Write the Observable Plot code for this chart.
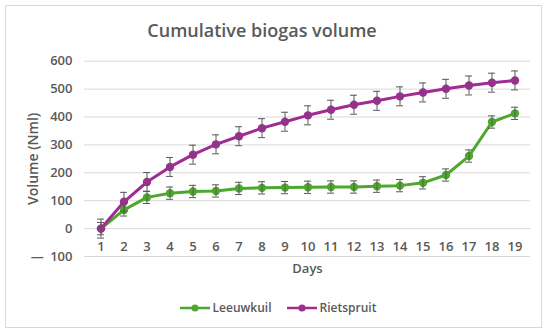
<!DOCTYPE html>
<html>
<head>
<meta charset="utf-8">
<script src="https://cdn.jsdelivr.net/npm/d3@7"></script>
<script src="https://cdn.jsdelivr.net/npm/@observablehq/plot@0.6"></script>
<style>
  html, body { margin: 0; padding: 0; background: #fff; }
  body { width: 550px; height: 335px; position: relative; overflow: hidden; font-family: "Open Sans", sans-serif; color: #595959; }
  #frame { position: absolute; left: 5px; top: 5px; width: 537px; height: 323px; border: 1px solid #d9d9d9; box-sizing: border-box; }
  #chart { position: absolute; left: 0; top: 0; width: 550px; }
  .title { height: 42px; padding-top: 18px; box-sizing: border-box; margin-bottom: 6px; text-align: center; font-size: 18px; line-height: 24px; font-weight: 600; color: #595959; }
  .title span { position: relative; left: -13px; }
  .legend { margin-top: 12px; height: 16px; display: flex; justify-content: center; gap: 15px; font-size: 12px; line-height: 16px; font-weight: 600; color: #595959; padding-left: 6px; }
  .legend .item { display: flex; align-items: center; gap: 3px; }
  svg { display: block; }
</style>
</head>
<body>
<div id="frame"></div>
<div id="chart"></div>
<script>
const days = [1, 2, 3, 4, 5, 6, 7, 8, 9, 10, 11, 12, 13, 14, 15, 16, 17, 18, 19];
const seriesNames = ["Leeuwkuil", "Rietspruit"];
const seriesColors = ["#4EA72E", "#A02B93"];
const leeuwkuil = [0, 67, 112, 127, 133, 135, 144, 146, 147, 148, 149, 149, 152, 154, 164, 192, 260, 382, 413];
const rietspruit = [0, 96, 167, 221, 265, 302, 331, 360, 383, 406, 426, 444, 458, 474, 488, 501, 513, 523, 531];
const errLeeuwkuil = [22, 22, 22, 22, 22, 22, 22, 22, 22, 22, 22, 22, 22, 22, 22, 22, 22, 22, 22];
const errRietspruit = [34, 34, 34, 34, 34, 34, 34, 34, 34, 34, 34, 34, 34, 34, 34, 34, 34, 34, 34];
const yTicks = [-100, 0, 100, 200, 300, 400, 500, 600];
const titleText = "Cumulative biogas volume";
const xLabel = "Days";
const yLabel = "Volume (Nml)";

const data = [];
days.forEach((d, i) => {
  data.push({ day: d, series: seriesNames[0], v: leeuwkuil[i], e: errLeeuwkuil[i] });
});
days.forEach((d, i) => {
  data.push({ day: d, series: seriesNames[1], v: rietspruit[i], e: errRietspruit[i] });
});

const chart = document.getElementById("chart");
const title = document.createElement("div");
title.className = "title";
title.innerHTML = "<span>" + titleText + "</span>";
chart.appendChild(title);

const plot = Plot.plot({
  width: 550,
  height: 240,
  marginLeft: 84,
  marginRight: 20,
  marginTop: 12.7,
  marginBottom: 32,
  style: { fontFamily: "Open Sans", fontSize: "13px", color: "#595959", background: "transparent", overflow: "visible" },
  x: { type: "band", domain: days, padding: 0 },
  y: { domain: [-100, 600] },
  color: { domain: seriesNames, range: seriesColors },
  marks: [
    Plot.gridY(yTicks, { stroke: "#d9d9d9", strokeOpacity: 1 }),
    Plot.axisY(yTicks, {
      tickSize: 0, tickPadding: 12, label: null, fontWeight: 600, fill: "#595959", fontSize: 13,
      tickFormat: d => d < 0 ? "\u2014\u2002" + Math.abs(d) : String(d)
    }),
    Plot.axisX({ tickSize: 0, tickPadding: 0, lineAnchor: "middle", dy: -10, label: null, fontWeight: 600, fill: "#595959", fontSize: 13 }),
    Plot.text([yLabel], { frameAnchor: "left", textAnchor: "middle", rotate: -90, dx: -51, fontSize: 14, fontWeight: 600, fill: "#595959" }),
    Plot.text([xLabel], { frameAnchor: "bottom", dy: 12, lineAnchor: "middle", fontSize: 13, fontWeight: 600, fill: "#595959" }),
    Plot.lineY(data, { x: "day", y: "v", z: "series", stroke: "series", strokeWidth: 3 }),
    Plot.dot(data, { x: "day", y: "v", fill: "series", r: 4.2 }),
    Plot.ruleX(data, { x: "day", y1: d => d.v - d.e, y2: d => d.v + d.e, stroke: "#595959", strokeWidth: 1 }),
    Plot.tickY(data, { x: "day", y: d => d.v - d.e, stroke: "#595959", strokeWidth: 1, inset: 8 }),
    Plot.tickY(data, { x: "day", y: d => d.v + d.e, stroke: "#595959", strokeWidth: 1, inset: 8 })
  ]
});
chart.appendChild(plot);

const legend = document.createElement("div");
legend.className = "legend";
seriesNames.forEach((name, i) => {
  const item = document.createElement("div");
  item.className = "item";
  item.innerHTML = `<svg width="30" height="10"><line x1="0" y1="5" x2="30" y2="5" stroke="${seriesColors[i]}" stroke-width="2.5"/><circle cx="15" cy="5" r="3.6" fill="${seriesColors[i]}"/></svg><span>${name}</span>`;
  legend.appendChild(item);
});
chart.appendChild(legend);
</script>
</body>
</html>
